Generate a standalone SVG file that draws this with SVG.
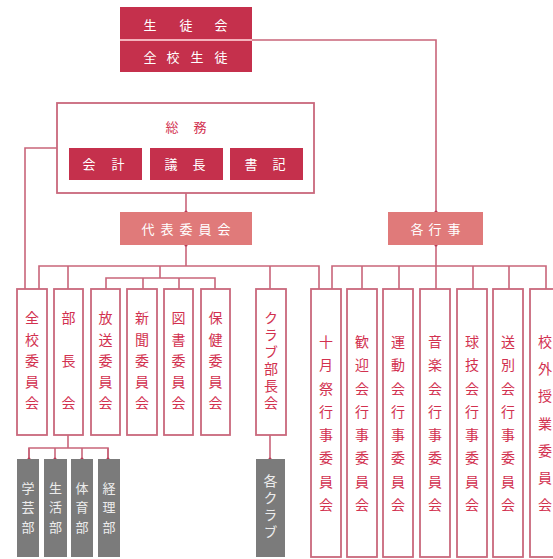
<svg xmlns="http://www.w3.org/2000/svg" width="553" height="559" viewBox="0 0 553 559">
<style>
text{font-family:"Noto Sans CJK JP","Noto Sans CJK SC",sans-serif;text-anchor:middle}
.dark{fill:#c5304c}
.mid{fill:#e07a7a}
.gray{fill:#7b7b7b}
.ob{fill:#fff;stroke:#c9687c;stroke-width:1.8}
.wt{fill:#ffffff;font-size:13px}
.gt{fill:#ececec;font-size:13px}
.rt{fill:#d2314f;font-size:14px}
.vt{writing-mode:vertical-rl;letter-spacing:3px}
.conn{fill:none;stroke:#c9657a;stroke-width:1.6}
</style>
<defs>
<marker id="dot" viewBox="0 0 4 4" refX="2" refY="2" markerWidth="4" markerHeight="4" markerUnits="userSpaceOnUse"><circle cx="2" cy="2" r="1.6" fill="#b83a55"/></marker>
</defs>
<rect width="553" height="559" fill="#fff"/>
<g id="connectors">
<path class="conn" d="M252 40H436V212" marker-end="url(#dot)"/>
<path class="conn" d="M57 148H25V289"/>
<path class="conn" d="M186 193V212" marker-end="url(#dot)"/>
<path class="conn" d="M186 245V266" marker-start="url(#dot)"/>
<path class="conn" d="M39 289V266H319V289M68 266V289M270 266V289M160 266V278"/>
<path class="conn" d="M106 289V278H215V289M143 278V289M179 278V289"/>
<path class="conn" d="M436 245V289" marker-start="url(#dot)"/>
<path class="conn" d="M332 289V266H546V289M362 266V289M399 266V289M473 266V289M509 266V289"/>
<path class="conn" d="M68 435V448"/>
<path class="conn" d="M29 459V448H108V459" />
<path class="conn" d="M29 448V459" marker-end="url(#dot)"/>
<path class="conn" d="M55 448V459" marker-end="url(#dot)"/>
<path class="conn" d="M82 448V459" marker-end="url(#dot)"/>
<path class="conn" d="M108 448V459" marker-end="url(#dot)"/>
<path class="conn" d="M270 435V459" marker-end="url(#dot)"/>
</g>
<g id="seitokai">
<rect class="dark" x="120" y="7" width="132" height="65"/>
<line x1="120" y1="40" x2="252" y2="40" stroke="#f4b3bd" stroke-width="2"/>
<text class="wt" y="30"><tspan x="150">生</tspan><tspan x="186">徒</tspan><tspan x="221">会</tspan></text>
<text class="wt" y="62"><tspan x="150">全</tspan><tspan x="173">校</tspan><tspan x="197">生</tspan><tspan x="221">徒</tspan></text>
</g>
<g id="somu">
<rect class="ob" x="57" y="103" width="257" height="90"/>
<text class="rt" y="132" style="font-size:13px"><tspan x="172">総</tspan><tspan x="200">務</tspan></text>
</g>
<g id="kaikei"><rect class="dark" x="69" y="148" width="73" height="32"/><text class="wt" y="169"><tspan x="89">会</tspan><tspan x="118">計</tspan></text></g>
<g id="gicho"><rect class="dark" x="150" y="148" width="73" height="32"/><text class="wt" y="169"><tspan x="171">議</tspan><tspan x="199">長</tspan></text></g>
<g id="shoki"><rect class="dark" x="230" y="148" width="73" height="32"/><text class="wt" y="169"><tspan x="251">書</tspan><tspan x="279">記</tspan></text></g>
<g id="daihyo"><rect class="mid" x="120" y="212" width="132" height="33"/><text class="wt" y="234"><tspan x="148">代</tspan><tspan x="167">表</tspan><tspan x="186">委</tspan><tspan x="205">員</tspan><tspan x="224">会</tspan></text></g>
<g id="gyoji"><rect class="mid" x="388" y="212" width="95" height="33"/><text class="wt" y="234"><tspan x="417">各</tspan><tspan x="435">行</tspan><tspan x="454">事</tspan></text></g>
<g id="zenko"><rect class="ob" x="17" y="289" width="30" height="146"/><text class="rt"><tspan x="32" y="323">全</tspan><tspan x="32" y="345">校</tspan><tspan x="32" y="366">委</tspan><tspan x="32" y="387">員</tspan><tspan x="32" y="408">会</tspan></text></g>
<g id="bucho"><rect class="ob" x="54" y="289" width="29" height="146"/><text class="rt"><tspan x="68.5" y="323">部</tspan><tspan x="68.5" y="366">長</tspan><tspan x="68.5" y="408">会</tspan></text></g>
<g id="hoso"><rect class="ob" x="91" y="289" width="29" height="146"/><text class="rt"><tspan x="105.5" y="323">放</tspan><tspan x="105.5" y="345">送</tspan><tspan x="105.5" y="366">委</tspan><tspan x="105.5" y="387">員</tspan><tspan x="105.5" y="408">会</tspan></text></g>
<g id="shinbun"><rect class="ob" x="127" y="289" width="30" height="146"/><text class="rt"><tspan x="142" y="323">新</tspan><tspan x="142" y="345">聞</tspan><tspan x="142" y="366">委</tspan><tspan x="142" y="387">員</tspan><tspan x="142" y="408">会</tspan></text></g>
<g id="tosho"><rect class="ob" x="164" y="289" width="29" height="146"/><text class="rt"><tspan x="178.5" y="323">図</tspan><tspan x="178.5" y="345">書</tspan><tspan x="178.5" y="366">委</tspan><tspan x="178.5" y="387">員</tspan><tspan x="178.5" y="408">会</tspan></text></g>
<g id="hoken"><rect class="ob" x="201" y="289" width="29" height="146"/><text class="rt"><tspan x="215.5" y="323">保</tspan><tspan x="215.5" y="345">健</tspan><tspan x="215.5" y="366">委</tspan><tspan x="215.5" y="387">員</tspan><tspan x="215.5" y="408">会</tspan></text></g>
<g id="club-bucho"><rect class="ob" x="256" y="289" width="30" height="146"/><text class="rt vt" x="271" y="362">クラブ部長会</text></g>
<g id="jugatsusai"><rect class="ob" x="311" y="289" width="30" height="268"/><text class="rt"><tspan x="326" y="347">十</tspan><tspan x="326" y="370">月</tspan><tspan x="326" y="394">祭</tspan><tspan x="326" y="417">行</tspan><tspan x="326" y="440">事</tspan><tspan x="326" y="463">委</tspan><tspan x="326" y="487">員</tspan><tspan x="326" y="510">会</tspan></text></g>
<g id="kangei"><rect class="ob" x="347" y="289" width="30" height="268"/><text class="rt"><tspan x="362" y="347">歓</tspan><tspan x="362" y="370">迎</tspan><tspan x="362" y="394">会</tspan><tspan x="362" y="417">行</tspan><tspan x="362" y="440">事</tspan><tspan x="362" y="463">委</tspan><tspan x="362" y="487">員</tspan><tspan x="362" y="510">会</tspan></text></g>
<g id="undo"><rect class="ob" x="383" y="289" width="30" height="268"/><text class="rt"><tspan x="398" y="347">運</tspan><tspan x="398" y="370">動</tspan><tspan x="398" y="394">会</tspan><tspan x="398" y="417">行</tspan><tspan x="398" y="440">事</tspan><tspan x="398" y="463">委</tspan><tspan x="398" y="487">員</tspan><tspan x="398" y="510">会</tspan></text></g>
<g id="ongaku"><rect class="ob" x="420" y="289" width="30" height="268"/><text class="rt"><tspan x="435" y="347">音</tspan><tspan x="435" y="370">楽</tspan><tspan x="435" y="394">会</tspan><tspan x="435" y="417">行</tspan><tspan x="435" y="440">事</tspan><tspan x="435" y="463">委</tspan><tspan x="435" y="487">員</tspan><tspan x="435" y="510">会</tspan></text></g>
<g id="kyugi"><rect class="ob" x="457" y="289" width="30" height="268"/><text class="rt"><tspan x="472" y="347">球</tspan><tspan x="472" y="370">技</tspan><tspan x="472" y="394">会</tspan><tspan x="472" y="417">行</tspan><tspan x="472" y="440">事</tspan><tspan x="472" y="463">委</tspan><tspan x="472" y="487">員</tspan><tspan x="472" y="510">会</tspan></text></g>
<g id="sobetsu"><rect class="ob" x="493" y="289" width="30" height="268"/><text class="rt"><tspan x="508" y="347">送</tspan><tspan x="508" y="370">別</tspan><tspan x="508" y="394">会</tspan><tspan x="508" y="417">行</tspan><tspan x="508" y="440">事</tspan><tspan x="508" y="463">委</tspan><tspan x="508" y="487">員</tspan><tspan x="508" y="510">会</tspan></text></g>
<g id="kogai"><rect class="ob" x="530" y="289" width="30" height="268"/><text class="rt"><tspan x="545" y="347">校</tspan><tspan x="545" y="374">外</tspan><tspan x="545" y="401">授</tspan><tspan x="545" y="429">業</tspan><tspan x="545" y="456">委</tspan><tspan x="545" y="483">員</tspan><tspan x="545" y="510">会</tspan></text></g>
<g id="gakugei"><rect class="gray" x="17" y="459" width="22" height="98"/><text class="gt"><tspan x="28" y="493">学</tspan><tspan x="28" y="512">芸</tspan><tspan x="28" y="532">部</tspan></text></g>
<g id="seikatsu"><rect class="gray" x="44" y="459" width="23" height="98"/><text class="gt"><tspan x="55.5" y="493">生</tspan><tspan x="55.5" y="512">活</tspan><tspan x="55.5" y="532">部</tspan></text></g>
<g id="taiiku"><rect class="gray" x="71" y="459" width="22" height="98"/><text class="gt"><tspan x="82" y="493">体</tspan><tspan x="82" y="512">育</tspan><tspan x="82" y="532">部</tspan></text></g>
<g id="keiri"><rect class="gray" x="98" y="459" width="22" height="98"/><text class="gt"><tspan x="109" y="493">経</tspan><tspan x="109" y="512">理</tspan><tspan x="109" y="532">部</tspan></text></g>
<g id="kaku-club"><rect class="gray" x="256" y="459" width="29" height="98"/><text class="gt vt" style="font-size:14px" x="270.5" y="508">各クラブ</text></g>
</svg>
